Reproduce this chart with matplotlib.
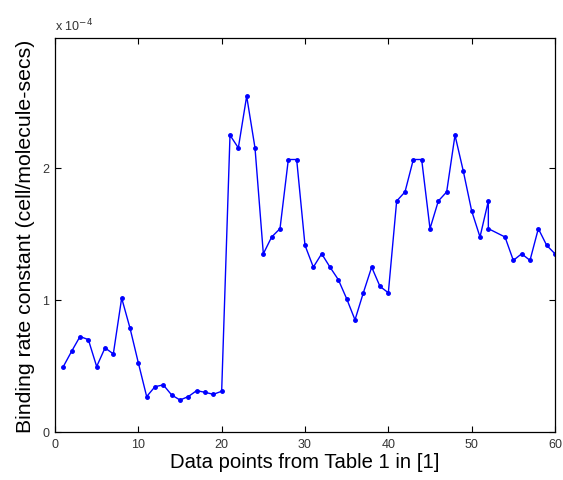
import matplotlib
matplotlib.use("Agg")
import matplotlib.pyplot as plt

x_vals = [1, 2, 3, 4, 5, 6, 7, 8, 9, 10,
          11, 12, 13, 14, 15, 16, 17, 18, 19, 20,
          21, 22, 23, 24, 25, 26, 27, 28, 29, 30,
          31, 32, 33, 34, 35, 36, 37, 38, 39, 40,
          41, 42, 43, 44, 45, 46, 47, 48, 49, 50,
          51, 52, 52, 54, 55, 56, 57, 58, 59, 60]
rate_e4 = [0.495, 0.611, 0.722, 0.699, 0.495, 0.636, 0.591, 1.013, 0.786, 0.523,
           0.268, 0.343, 0.356, 0.280, 0.242, 0.268, 0.313, 0.300, 0.285, 0.308,
           2.245, 2.149, 2.540, 2.149, 1.348, 1.475, 1.538, 2.061, 2.061, 1.412,
           1.247, 1.348, 1.247, 1.152, 1.008, 0.848, 1.053, 1.247, 1.101, 1.053,
           1.747, 1.816, 2.061, 2.061, 1.538, 1.747, 1.816, 2.245, 1.972, 1.672,
           1.475, 1.747, 1.538, 1.475, 1.298, 1.348, 1.298, 1.538, 1.412, 1.348]
x_ticks = [0, 10, 20, 30, 40, 50, 60]
y_ticks = [0, 1, 2]

plt.rcParams['font.family'] = ['Liberation Sans', 'DejaVu Sans']

fig = plt.figure(figsize=(5.63, 4.81), dpi=100)
ax = fig.add_axes([55/563, 48/481, 500/563, 394/481])
ax.plot(x_vals, rate_e4, color='#0000ff', linewidth=1.0, marker='.', markersize=5)
ax.set_xlim(0, 60)
ax.set_ylim(0, 2.98)
ax.set_xticks(x_ticks)
ax.set_yticks(y_ticks)
ax.tick_params(direction='in', top=True, right=True, labelsize=9, length=4, width=0.8, pad=4,
               labelcolor='#333333')
for s in ax.spines.values():
    s.set_linewidth(0.9)
ax.text(0, 1.012, r'x 10$^{-4}$', transform=ax.transAxes, fontsize=9, ha='left', va='bottom',
        color='#333333')
ax.set_xlabel('Data points from Table 1 in [1]', fontsize=14.6, labelpad=2)
ax.set_ylabel('Binding rate constant (cell/molecule-secs)', fontsize=15.3, labelpad=5)

fig.savefig('out.png', dpi=100)
